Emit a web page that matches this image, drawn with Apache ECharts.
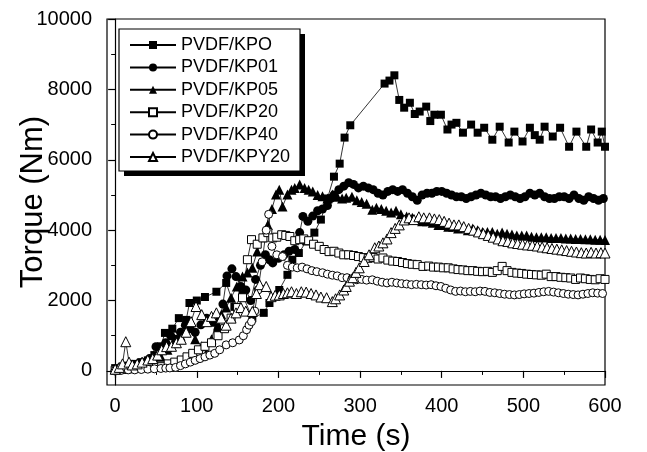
<!DOCTYPE html>
<html><head><meta charset="utf-8">
<script src="https://cdn.jsdelivr.net/npm/echarts@6/dist/echarts.min.js"></script>
<style>html,body{margin:0;padding:0;background:#fff}#c{width:647px;height:452px}</style>
</head><body><div id="c"></div>
<script>
var names = ['PVDF/KPO','PVDF/KP01','PVDF/KP05','PVDF/KP20','PVDF/KP40','PVDF/KPY20'];
var xTickLabels = [0,100,200,300,400,500,600];
var yTickLabels = [0,2000,4000,6000,8000,10000];

var kpoT = [0,8,16,24,32,40,48,56,61,70,78,87,91,100,110,124,136,146,156,168,182,189,201,211,217,225,234,244,252,260,268,275,281,288,330,336,342,348,354,361,367,373,381,386,391,399,407,412,418,426,436,444,452,462,471,482,489,499,508,514,520,526,536,545,556,565,577,583,591,596,600];
var kpoV = [80,100,150,200,250,300,450,700,1080,1200,1500,1450,1930,2000,2100,2250,2500,1820,2160,1500,1650,1930,2300,2730,3160,3350,3680,3930,4300,4900,5520,5890,6630,6980,8165,8250,8400,7700,7480,7620,7300,7370,7510,7100,7280,7280,6860,7000,7050,6770,7000,6770,6910,6570,6940,6490,6800,6520,6910,6700,6570,6940,6660,6910,6370,6800,6370,6860,6490,6800,6370];

var kp01T = [0,6,12,18,24,30,36,42,50,56,62,68,74,80,86,92,98,105,112,118,126,132,137,143,148,154,160,166,172,178,184,189,193,200,207,213,220,226,230,236,242,248,254,260,264,268,274,280,286,292,298,304,310,316,322,328,334,340,346,352,358,364,370,376,382,388,394,400,406,412,418,424,430,436,442,448,454,460,466,472,478,484,490,496,502,508,514,520,526,532,538,544,550,556,562,568,574,580,586,592,598];
var kp01V = [0,20,40,60,100,150,200,350,690,600,800,1000,900,1100,1300,1200,1100,1310,1500,1400,1170,1900,2700,2900,2680,2400,2300,2000,2600,3000,3300,3160,3070,3200,3300,3400,3450,3930,4390,4250,4400,4550,4600,4700,4900,5000,5150,5250,5350,5300,5200,5250,5200,5150,5050,5000,5100,5150,5100,5150,5050,4950,4850,5000,5050,5050,5100,5100,5050,5000,4950,4950,4900,4950,5000,5050,5000,4950,4950,4900,4950,5000,4950,4900,4950,5050,5000,5050,4950,4900,4900,4950,4950,4900,5000,4900,4850,4950,4900,4850,4900];

var kp05T = [0,8,16,24,32,40,48,56,64,72,80,86,91,98,106,112,118,124,130,136,142,149,156,162,168,174,181,187,192,197,201,205,211,216,220,226,232,237,242,248,254,260,266,272,278,283,290,296,302,308,315,320,326,332,338,344,350,357,364,370,376,382,389,396,402,408,414,420,426,432,438,444,450,456,462,468,474,480,486,492,498,504,510,516,522,528,534,540,546,552,558,564,570,576,582,588,594,600];
var kp05V = [50,80,100,120,150,200,300,400,600,800,1000,1100,1250,900,700,510,900,1400,1600,1800,2080,2400,2680,2800,2930,3390,3800,4150,4600,5010,5150,4670,5010,5150,5200,5300,5200,5150,5100,5000,4960,4900,5010,4950,4900,4920,4950,4850,4800,4750,4580,4640,4600,4550,4500,4550,4450,4390,4350,4300,4250,4250,4210,4150,4150,4100,4100,4050,4070,4000,4050,4000,3950,3950,3950,3900,3930,3900,3880,3850,3850,3850,3810,3800,3800,3800,3780,3780,3780,3760,3760,3750,3750,3740,3740,3730,3730,3720];

var kp20T = [0,8,16,24,32,40,48,57,65,73,81,88,95,102,110,118,126,134,142,150,156,162,167,174,181,187,193,198,204,209,214,220,226,231,237,243,250,256,262,268,274,280,286,292,298,304,310,316,322,328,334,340,346,352,358,364,370,377,384,390,396,402,408,414,420,426,432,438,444,450,456,462,468,474,480,486,492,498,504,510,516,522,528,534,540,546,552,558,564,570,576,582,588,594,600];
var kp20V = [20,40,60,80,100,120,100,120,200,250,310,400,500,600,700,800,1000,1200,1500,1800,2080,3160,3730,3600,3780,3930,3780,3800,3870,3850,3820,3700,3730,3750,3700,3600,3540,3450,3390,3400,3350,3300,3300,3280,3250,3220,3200,3220,3180,3210,3150,3120,3110,3080,3050,3030,3020,2970,2980,2950,2950,2930,2930,2900,2880,2870,2850,2850,2830,2820,2830,2800,2850,2970,2850,2800,2780,2770,2750,2740,2730,2720,2750,2680,2680,2660,2650,2640,2600,2640,2620,2600,2590,2620,2600];

var kp40T = [0,8,16,24,32,40,48,56,62,67,74,80,86,92,98,104,110,116,122,128,136,144,152,157,161,164,167,171,175,180,185,188,192,198,205,211,217,223,229,235,241,247,254,260,266,272,278,284,290,296,302,308,315,321,327,333,339,345,351,357,363,369,375,381,387,393,399,405,411,417,423,429,435,441,447,453,459,465,471,477,483,489,495,501,507,513,519,525,531,537,543,549,555,561,567,573,579,585,591,597];
var kp40V = [10,20,30,30,40,50,60,70,80,85,100,150,200,250,300,350,400,450,500,600,740,800,880,1000,1170,1300,1400,1700,2300,3100,4000,4450,3540,3300,3250,3000,2950,2930,2950,2900,2850,2820,2790,2750,2720,2700,2650,2650,2620,2590,2600,2580,2590,2550,2520,2500,2520,2500,2480,2470,2450,2460,2450,2440,2450,2420,2400,2350,2300,2260,2270,2250,2260,2250,2270,2260,2230,2220,2200,2180,2170,2160,2170,2190,2200,2210,2230,2250,2260,2240,2220,2200,2180,2170,2160,2180,2200,2220,2210,2200];

var kpy20T = [0,5,9,13,17,21,27,33,40,46,52,57,63,69,75,81,87,93,99,106,112,118,124,130,136,142,148,154,160,168,173,177,185,191,196,201,206,211,216,222,228,234,240,246,252,259,266,270,275,280,283,287,291,295,299,305,311,318,323,328,333,338,343,348,354,360,366,372,378,385,391,397,403,409,415,421,427,433,439,445,451,457,463,469,475,481,487,493,499,505,511,517,523,529,535,541,547,553,559,565,571,577,583,589,595,600];
var kpy20V = [50,100,200,830,250,170,200,250,310,350,450,600,690,700,800,900,1100,1400,1830,1600,1400,1550,1650,1500,1300,1500,1650,1800,1700,1690,2200,2450,2400,2110,2150,2160,2200,2220,2250,2200,2250,2240,2200,2160,2100,2080,1970,2050,2160,2300,2400,2550,2650,2800,2930,3110,3300,3500,3550,3640,3750,3930,4050,4150,4290,4350,4300,4380,4350,4350,4320,4300,4250,4200,4150,4150,4100,4050,4000,3950,3900,3850,3800,3750,3700,3680,3640,3620,3600,3580,3570,3550,3520,3500,3480,3460,3440,3420,3400,3380,3360,3350,3370,3350,3360,3350];

function pairs(t, v) { return t.map(function (x, i) { return [x, v[i]]; }); }

var FONT = '"Liberation Sans", Arial, sans-serif';
var chart = echarts.init(document.getElementById('c'), null, { renderer: 'canvas' });

function mk(name, t, v, symbol, size, filled) {
  return {
    name: name, type: 'line', data: pairs(t, v), xAxisIndex: 0, yAxisIndex: 0,
    symbol: symbol, symbolSize: size, showAllSymbol: true, animation: false,
    lineStyle: { color: '#000', width: 0.8 },
    itemStyle: filled ? { color: '#000', borderColor: '#000', borderWidth: 0 }
                      : { color: '#fff', borderColor: '#000', borderWidth: 1 },
    emphasis: { disabled: true }
  };
}

var xMinor = [], yMinor = [];
for (var i = 0; i <= 600; i += 50) xMinor.push(i);
for (var j = 0; j <= 10000; j += 1000) yMinor.push(j);

var axisBase = {
  axisLine: { show: true, lineStyle: { color: '#000', width: 1.2 } },
  splitLine: { show: false }
};

chart.setOption({
  animation: false,
  backgroundColor: '#fff',
  grid: { left: 107, right: 42, top: 19, bottom: 67, show: true, borderColor: '#000', borderWidth: 1.2, backgroundColor: 'transparent', containLabel: false, outerBoundsMode: 'none' },
  graphic: [
    { type: 'rect', z: 50, silent: true, shape: { x: 124, y: 34, width: 181, height: 142 }, style: { fill: '#000' } },
    { type: 'rect', z: 51, silent: true, shape: { x: 119, y: 29, width: 181, height: 142 }, style: { fill: '#fff', stroke: '#000', lineWidth: 1.2 } }
  ],
  legend: {
    data: names, orient: 'vertical', left: 129, top: 36, z: 60,
    padding: 0, itemGap: 4.4, itemWidth: 46, itemHeight: 10,
    textStyle: { fontFamily: FONT, fontSize: 18, color: '#000' },
    selectedMode: false
  },
  xAxis: [
    Object.assign({}, axisBase, {
      type: 'value', min: -10, max: 600, position: 'bottom',
      name: 'Time (s)', nameLocation: 'middle', nameGap: 37, nameMoveOverlap: false,
      nameTextStyle: { fontFamily: FONT, fontSize: 30, color: '#000' },
      axisTick: { show: true, inside: false, length: 7, customValues: xTickLabels, lineStyle: { color: '#000', width: 1.2 } },
      axisLabel: { customValues: xTickLabels, fontFamily: FONT, fontSize: 20, color: '#000', margin: 11 }
    }),
    {
      type: 'value', min: -10, max: 600, position: 'bottom', gridIndex: 0,
      axisLine: { show: false }, splitLine: { show: false },
      axisTick: { show: true, length: 4, customValues: xMinor, lineStyle: { color: '#000', width: 1 } },
      axisLabel: { show: false }
    }
  ],
  yAxis: [
    Object.assign({}, axisBase, {
      type: 'value', min: -400, max: 10000, position: 'left',
      name: 'Torque (Nm)', nameLocation: 'middle', nameGap: 58, nameMoveOverlap: false,
      nameTextStyle: { fontFamily: FONT, fontSize: 31, color: '#000' },
      axisTick: { show: true, inside: false, length: 7, customValues: yTickLabels, lineStyle: { color: '#000', width: 1.2 } },
      axisLabel: { customValues: yTickLabels, formatter: function (v) { return String(v); }, fontFamily: FONT, fontSize: 20, color: '#000', margin: 15 }
    }),
    {
      type: 'value', min: -400, max: 10000, position: 'left', gridIndex: 0,
      axisLine: { show: false }, splitLine: { show: false },
      axisTick: { show: true, length: 4, customValues: yMinor, lineStyle: { color: '#000', width: 1 } },
      axisLabel: { show: false }
    }
  ],
  series: [
    mk(names[0], kpoT, kpoV, 'rect', 8, true),
    mk(names[1], kp01T, kp01V, 'circle', 9, true),
    mk(names[2], kp05T, kp05V, 'triangle', 10, true),
    mk(names[3], kp20T, kp20V, 'rect', 8, false),
    mk(names[4], kp40T, kp40V, 'circle', 8, false),
    mk(names[5], kpy20T, kpy20V, 'triangle', 10, false)
  ]
});
</script></body></html>
